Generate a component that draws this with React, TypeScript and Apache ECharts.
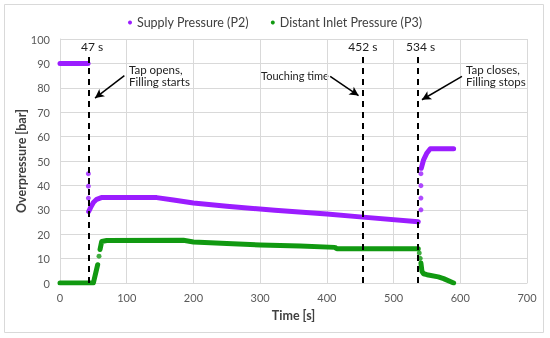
import React, { useEffect, useRef } from "react";
import * as echarts from "echarts";

const PURPLE = "#9B1DFF";
const GREEN = "#119911";

// Supply Pressure (P2)
const p2Hold: number[][] = [[0, 90], [42, 90]];
const p2Dots: number[][] = [[42.5, 44.8], [42.5, 39.7], [42.5, 34.8], [541, 44.8], [541, 39.9], [541, 34.8], [541, 30]];
const p2Main: number[][] = [[43, 29.3], [46, 31], [50, 33], [55, 34.3], [62, 35], [100, 35], [145, 35], [170, 34], [200, 32.8], [250, 31.5], [322, 29.8], [400, 28.3], [454, 27], [537, 25.1]];
const p2End: number[][] = [[541.5, 47], [545, 50.5], [550, 53.3], [555, 55], [590, 55]];

// Distant Inlet Pressure (P3)
const p3Start: number[][] = [[0, 0], [50, 0], [56.5, 7.5]];
const p3Dots: number[][] = [[58.5, 11], [538.5, 12.3], [540, 10.1]];
const p3Main: number[][] = [[60, 13.7], [62.5, 17], [70, 17.4], [185, 17.5], [200, 16.8], [250, 16.2], [300, 15.6], [360, 15.2], [412, 14.6], [415, 14], [537, 14]];
const p3End: number[][] = [[541, 8.2], [542.5, 4.8], [545, 3.8], [550, 3.4], [567, 2.5], [575, 1.8], [590, 0]];

// Event markers
const eventX: number[] = [43.5, 454, 536];
const eventLabels: string[] = ["47 s", "452 s", "534 s"];
const eventTop = 93;

// Arrows [fromX, fromY, toX, toY]
const arrows: number[][] = [[96.5, 85, 52.5, 75.8], [405, 84.7, 447.5, 76.8], [602.5, 84.7, 542.5, 75.1]];

const FONT = "Lato";
const LIGHT = "#D9D9D9";

export default function App() {
  const ref = useRef<HTMLDivElement>(null);
  useEffect(() => {
    const chart = echarts.init(ref.current!, null, { renderer: "svg" });
    const lineSeries = (name: string, color: string, data: number[][]) => ({
      name, type: "line", data, symbol: "none", showSymbol: false,
      lineStyle: { color, width: 5, cap: "round", join: "round" },
      itemStyle: { color }, silent: true,
    });
    const dotSeries = (name: string, color: string, data: number[][]) => ({
      name, type: "scatter", data, symbol: "circle", symbolSize: 5,
      itemStyle: { color }, silent: true,
    });
    const option: any = {
      animation: false,
      textStyle: { fontFamily: FONT },
      legend: {
        top: 11, left: "center", itemGap: 22, itemWidth: 4, itemHeight: 4,
        textStyle: { fontFamily: FONT, fontSize: 12.5, color: "#404040" },
        data: [
          { name: "Supply Pressure (P2)", icon: "circle", itemStyle: { color: PURPLE } },
          { name: "Distant Inlet Pressure (P3)", icon: "circle", itemStyle: { color: GREEN } },
        ],
      },
      grid: { left: 60, right: 23, top: 39, bottom: 55 },
      xAxis: {
        type: "value", min: 0, max: 700, interval: 100,
        name: "Time [s]", nameLocation: "middle", nameGap: 26, nameMoveOverlap: false,
        nameTextStyle: { fontFamily: FONT, fontSize: 12.5, fontWeight: "bold", color: "#404040" },
        axisLine: { show: true, lineStyle: { color: LIGHT } },
        axisTick: { show: false },
        splitLine: { show: true, lineStyle: { color: LIGHT, width: 1 } },
        axisLabel: { color: "#595959", fontFamily: FONT, fontSize: 11, margin: 9 },
      },
      yAxis: {
        type: "value", min: 0, max: 100, interval: 10,
        name: "Overpressure [bar]", nameLocation: "middle", nameGap: 32, nameMoveOverlap: false,
        nameTextStyle: { fontFamily: FONT, fontSize: 12.5, fontWeight: "bold", color: "#404040" },
        axisLine: { show: true, lineStyle: { color: LIGHT } },
        axisTick: { show: false },
        splitLine: { show: true, lineStyle: { color: LIGHT, width: 1 } },
        axisLabel: { color: "#595959", fontFamily: FONT, fontSize: 11, margin: 10 },
      },
      series: [
        lineSeries("Supply Pressure (P2)", PURPLE, p2Hold),
        lineSeries("Supply Pressure (P2)", PURPLE, p2Main),
        lineSeries("Supply Pressure (P2)", PURPLE, p2End),
        dotSeries("Supply Pressure (P2)", PURPLE, p2Dots),
        lineSeries("Distant Inlet Pressure (P3)", GREEN, p3Start),
        lineSeries("Distant Inlet Pressure (P3)", GREEN, p3Main),
        lineSeries("Distant Inlet Pressure (P3)", GREEN, p3End),
        dotSeries("Distant Inlet Pressure (P3)", GREEN, p3Dots),
        {
          type: "line", data: [], silent: true,
          markLine: {
            silent: true, symbol: ["none", "none"], animation: false,
            lineStyle: { color: "#000", width: 2, type: [6, 5] },
            label: {
              show: true, position: "end", formatter: "{b}", distance: 4,
              fontFamily: FONT, fontSize: 12, color: "#222",
            },
            data: eventX.map((x, i) => [
              { name: eventLabels[i], coord: [x, 0], label: { offset: [i === 1 ? 0 : 3, 0] } },
              { coord: [x, eventTop] },
            ]),
          },
        },
        {
          type: "line", data: [], silent: true,
          markLine: {
            silent: true, symbol: ["none", "arrow"], symbolSize: [7, 9], animation: false,
            lineStyle: { color: "#000", width: 1.5, type: "solid" },
            label: { show: false },
            data: arrows.map((a) => [{ coord: [a[0], a[1]] }, { coord: [a[2], a[3]] }]),
          },
        },
      ],
      graphic: [
        { type: "rect", shape: { x: 4.5, y: 4.5, width: 539, height: 328 }, style: { fill: "none", stroke: LIGHT, lineWidth: 1 }, silent: true },
        { type: "text", x: 129, y: 63, style: { text: "Tap opens,\nFilling starts", font: `11.5px ${FONT}`, fill: "#222", lineHeight: 12.5, align: "left", verticalAlign: "top" } },
        { type: "text", x: 261, y: 69.5, style: { text: "Touching time", font: `11px ${FONT}`, fill: "#222", lineHeight: 12.5, align: "left", verticalAlign: "top" } },
        { type: "text", x: 466, y: 63, style: { text: "Tap closes,\nFilling stops", font: `11.5px ${FONT}`, fill: "#222", lineHeight: 12.5, align: "left", verticalAlign: "top" } },
      ],
    };
    chart.setOption(option);
    return () => chart.dispose();
  }, []);
  return <div ref={ref} style={{ position: "fixed", left: 0, top: 0, width: 550, height: 338 }} />;
}
